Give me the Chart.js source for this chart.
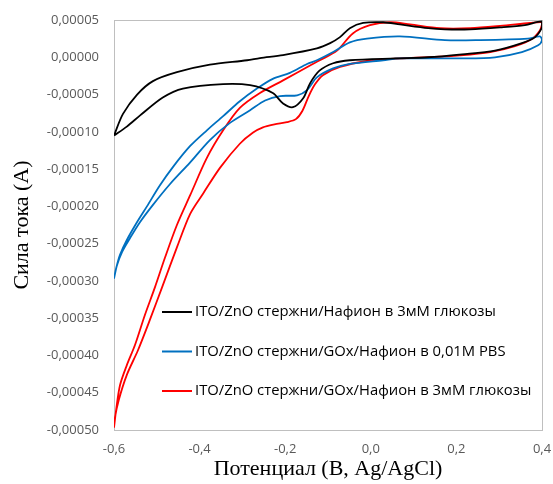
<!DOCTYPE html>
<html>
<head>
<meta charset="utf-8">
<script src="https://cdn.jsdelivr.net/npm/chart.js@4.4.1/dist/chart.umd.min.js"></script>
<style>
  html, body { margin: 0; padding: 0; background: #fff; }
</style>
</head>
<body>
<canvas id="cv" width="553" height="484"></canvas>
<script>
// ── DATA ─────────────────────────────────────────────────────────
// potential (V vs Ag/AgCl) and current (A), forward sweep then reverse
const xTicks = [-0.6, -0.4, -0.2, 0.0, 0.2, 0.4];
const yTicks = [-50e-5, -45e-5, -40e-5, -35e-5, -30e-5, -25e-5, -20e-5, -15e-5, -10e-5, -5e-5, 0, 5e-5];

const seriesLabels = [
  'ITO/ZnO стержни/Нафион в 3мМ глюкозы',
  'ITO/ZnO стержни/GOx/Нафион в 0,01М PBS',
  'ITO/ZnO стержни/GOx/Нафион в 3мМ глюкозы',
];
const seriesColors = ['#000000', '#0070C0', '#FF0000'];

const blackV = [-0.600, -0.579, -0.546, -0.509, -0.453, -0.376, -0.289, -0.259, -0.205, -0.126, -0.095, -0.072, -0.049, -0.018, 0.029, 0.068, 0.134, 0.173, 0.232, 0.302, 0.360, 0.400,
                0.400, 0.384, 0.353, 0.290, 0.213, 0.134, 0.057, -0.049, -0.088, -0.120, -0.142, -0.158, -0.182, -0.205, -0.229, -0.282, -0.345, -0.439, -0.486, -0.539, -0.570, -0.600];
const blackI = [-10.5e-5, -7.6e-5, -5.0e-5, -3.2e-5, -2.0e-5, -1.0e-5, -0.4e-5, -0.1e-5, 0.3e-5, 1.2e-5, 1.9e-5, 2.7e-5, 3.9e-5, 4.6e-5, 4.7e-5, 4.4e-5, 3.9e-5, 3.75e-5, 3.75e-5, 4.0e-5, 4.3e-5, 4.8e-5,
                4.0e-5, 2.7e-5, 1.9e-5, 0.9e-5, 0.4e-5, 0.0, -0.15e-5, -0.4e-5, -0.8e-5, -1.8e-5, -3.5e-5, -5.5e-5, -6.7e-5, -6.2e-5, -4.8e-5, -3.75e-5, -3.6e-5, -4.2e-5, -5.4e-5, -7.8e-5, -9.3e-5, -10.5e-5];

const blueV = [-0.600, -0.595, -0.586, -0.570, -0.546, -0.523, -0.493, -0.462, -0.422, -0.383, -0.345, -0.306, -0.266, -0.229, -0.189, -0.149, -0.126, -0.088, -0.049, -0.009, 0.068, 0.173, 0.250, 0.367, 0.395,
               0.400, 0.391, 0.353, 0.290, 0.213, 0.068, 0.029, -0.049, -0.088, -0.126, -0.149, -0.172, -0.212, -0.247, -0.282, -0.329, -0.376, -0.422, -0.469, -0.509, -0.539, -0.563, -0.581, -0.593, -0.600];
const blueI = [-29.7e-5, -28.3e-5, -26.5e-5, -24.5e-5, -22.1e-5, -20.0e-5, -17.2e-5, -14.7e-5, -11.9e-5, -9.8e-5, -7.9e-5, -5.9e-5, -4.2e-5, -2.9e-5, -2.1e-5, -0.9e-5, -0.4e-5, 0.7e-5, 2.0e-5, 2.5e-5, 2.8e-5, 2.3e-5, 2.3e-5, 2.5e-5, 2.8e-5,
               2.3e-5, 1.6e-5, 0.7e-5, 0.0, -0.15e-5, -0.15e-5, -0.4e-5, -0.9e-5, -1.5e-5, -2.7e-5, -4.4e-5, -5.1e-5, -5.2e-5, -5.8e-5, -7.1e-5, -8.8e-5, -11.1e-5, -14.1e-5, -17.0e-5, -19.8e-5, -22.1e-5, -24.3e-5, -26.1e-5, -27.9e-5, -29.7e-5];

const redV = [-0.600, -0.595, -0.586, -0.570, -0.551, -0.528, -0.504, -0.481, -0.453, -0.422, -0.383, -0.345, -0.306, -0.259, -0.205, -0.142, -0.119, -0.079, -0.042, -0.002, 0.045, 0.092, 0.162, 0.232, 0.302, 0.372, 0.400,
              0.400, 0.395, 0.377, 0.337, 0.279, 0.208, 0.138, 0.068, -0.009, -0.072, -0.112, -0.130, -0.145, -0.160, -0.175, -0.196, -0.225, -0.252, -0.275, -0.306, -0.352, -0.392, -0.422, -0.453, -0.486, -0.516, -0.544, -0.570, -0.589, -0.598, -0.600];
const redI = [-49.7e-5, -47.3e-5, -44.0e-5, -41.3e-5, -38.6e-5, -34.6e-5, -30.8e-5, -26.9e-5, -22.5e-5, -18.5e-5, -13.5e-5, -9.8e-5, -6.8e-5, -4.8e-5, -3.1e-5, -1.1e-5, -0.4e-5, 0.9e-5, 3.2e-5, 4.3e-5, 4.7e-5, 4.4e-5, 3.9e-5, 3.9e-5, 4.2e-5, 4.6e-5, 4.7e-5,
              4.4e-5, 3.6e-5, 2.5e-5, 1.5e-5, 0.7e-5, 0.25e-5, 0.0, -0.15e-5, -0.5e-5, -1.3e-5, -2.4e-5, -3.6e-5, -5.2e-5, -7.2e-5, -8.3e-5, -8.7e-5, -9.0e-5, -9.4e-5, -10.1e-5, -11.6e-5, -14.8e-5, -18.3e-5, -21.0e-5, -25.5e-5, -30.6e-5, -35.2e-5, -39.3e-5, -42.6e-5, -46.0e-5, -48.4e-5, -49.7e-5];

const seriesV = [blackV, blueV, redV];
const seriesI = [blackI, blueI, redI];

// ── PLUGINS ──────────────────────────────────────────────────────
const plotBox = {
  id: 'plotBox',
  beforeDatasetsDraw(chart) {
    const { ctx, chartArea: a } = chart;
    ctx.save();
    ctx.strokeStyle = '#bfbfbf';
    ctx.lineWidth = 1;
    ctx.strokeRect(a.left + 0.5, a.top + 0.5, a.right - a.left, a.bottom - a.top);
    ctx.restore();
  }
};

const insideLegend = {
  id: 'insideLegend',
  afterDatasetsDraw(chart) {
    const { ctx, chartArea: a } = chart;
    ctx.save();
    ctx.font = '14.8px "Open Sans"';
    ctx.textBaseline = 'middle';
    ctx.fillStyle = '#000';
    chart.data.datasets.forEach((ds, i) => {
      const y = a.top + 292 + i * 39.5;
      ctx.strokeStyle = ds.borderColor;
      ctx.lineWidth = 2;
      ctx.beginPath();
      ctx.moveTo(a.left + 48, y);
      ctx.lineTo(a.left + 78, y);
      ctx.stroke();
      ctx.fillText(ds.label, a.left + 81, y);
    });
    ctx.restore();
  }
};

// ── CHART ────────────────────────────────────────────────────────
const tickFont = { family: '"Open Sans"', size: 13 };
const titleFont = { family: '"Liberation Serif"', size: 22 };

new Chart(document.getElementById('cv'), {
  type: 'scatter',
  data: {
    datasets: seriesLabels.map((label, i) => ({
      label,
      data: seriesV[i].map((v, k) => ({ x: v, y: seriesI[i][k] })),
      showLine: true,
      borderColor: seriesColors[i],
      borderWidth: 1.8,
      pointRadius: 0,
      tension: 0.3,
      fill: false,
    })),
  },
  options: {
    responsive: false,
    animation: false,
    layout: { padding: { top: 20, right: 11, left: 0, bottom: 0 } },
    plugins: { legend: { display: false }, tooltip: { enabled: false } },
    scales: {
      x: {
        type: 'linear',
        min: -0.6, max: 0.4,
        afterBuildTicks: axis => { axis.ticks = xTicks.map(v => ({ value: v })); },
        afterFit: axis => { axis.height = 54; axis.paddingLeft = 0; axis.paddingRight = 0; },
        grid: { display: false, drawTicks: false },
        border: { display: false },
        ticks: { color: '#595959', font: tickFont, padding: 11, maxRotation: 0,
                 callback: v => v.toFixed(1).replace('.', ',') },
        title: { display: true, text: 'Потенциал (В, Ag/AgCl)', color: '#000', font: titleFont, padding: { top: 0, bottom: 2 } },
      },
      y: {
        type: 'linear',
        min: -0.0005, max: 0.00005,
        afterBuildTicks: axis => { axis.ticks = yTicks.map(v => ({ value: v })); },
        afterFit: axis => { axis.width = 114; axis.paddingTop = 0; axis.paddingBottom = 0; },
        grid: { display: false, drawTicks: false },
        border: { display: false },
        ticks: { color: '#595959', font: tickFont, padding: 15,
                 callback: v => v.toFixed(5).replace('.', ',') },
        title: { display: true, text: 'Сила тока (A)', color: '#000', font: titleFont, padding: { top: 9, bottom: 0 } },
      },
    },
  },
  plugins: [plotBox, insideLegend],
});
</script>
</body>
</html>
